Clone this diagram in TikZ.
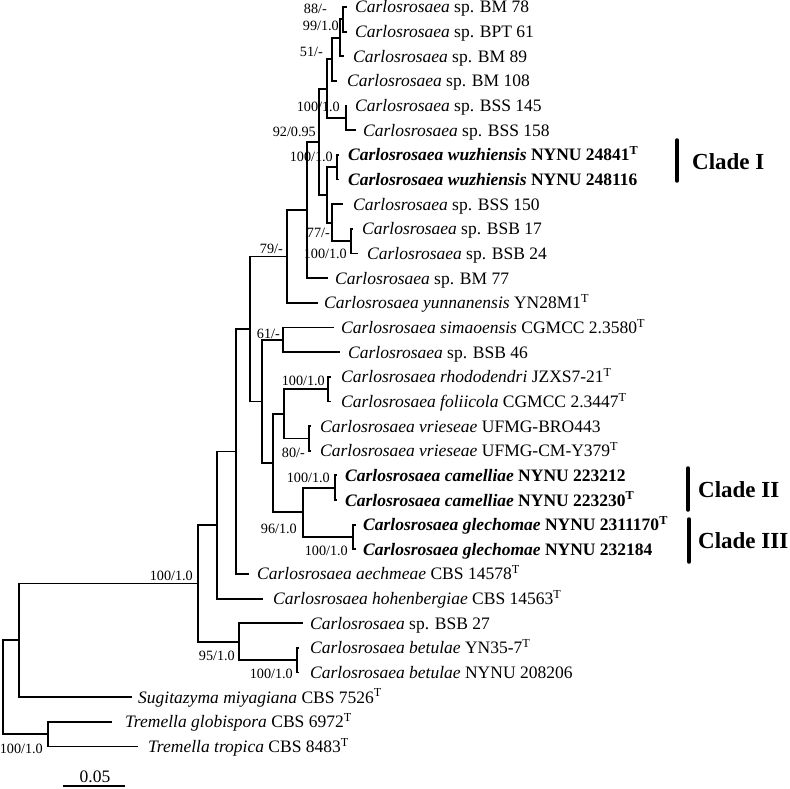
\documentclass[tikz,border=0pt]{standalone}
\usepackage{fontspec}
\setmainfont{Liberation Serif}
\begin{document}
\begin{tikzpicture}[x=1pt,y=-1pt,
  br/.style={line width=1.8pt},
  leaf/.style={anchor=base west,inner sep=0pt,font=\fontsize{17.5}{20}\selectfont},
  supp/.style={anchor=base east,inner sep=0pt,font=\fontsize{14.2}{16}\selectfont},
  cladetxt/.style={anchor=base west,inner sep=0pt,font=\fontsize{23}{26}\selectfont\bfseries},
  cladebar/.style={line width=3.5pt,line cap=round}]
\useasboundingbox (0,0) rectangle (790,789);
% leaf tips
\coordinate (l1) at (347,7);
\coordinate (l2) at (347,31.65);
\coordinate (l3) at (344,56.3);
\coordinate (l4) at (337,80.95);
\coordinate (l5) at (347,105.6);
\coordinate (l6) at (356,130.25);
\coordinate (l7) at (339,154.9);
\coordinate (l8) at (339,179.55);
\coordinate (l9) at (343,204.2);
\coordinate (l10) at (353,228.85);
\coordinate (l11) at (358,253.5);
\coordinate (l12) at (328,278.15);
\coordinate (l13) at (318,302.8);
\coordinate (l14) at (334,327.45);
\coordinate (l15) at (340,352.1);
\coordinate (l16) at (331,376.75);
\coordinate (l17) at (331,401.4);
\coordinate (l18) at (311,426.05);
\coordinate (l19) at (311,450.7);
\coordinate (l20) at (337,475.35);
\coordinate (l21) at (337,500);
\coordinate (l22) at (356,524.65);
\coordinate (l23) at (356,549.3);
\coordinate (l24) at (249,573.95);
\coordinate (l25) at (263,598.6);
\coordinate (l26) at (303,623.25);
\coordinate (l27) at (299,647.9);
\coordinate (l28) at (299,672.55);
\coordinate (l29) at (132,697.2);
\coordinate (l30) at (112,721.85);
\coordinate (l31) at (138,746.5);
% internal nodes
\coordinate (nZ) at (343,19.3);
\coordinate (nY) at (340,37.8);
\coordinate (nX) at (332,59.4);
\coordinate (nBS) at (346,117.9);
\coordinate (nT) at (327,88.7);
\coordinate (nWu) at (337,167.2);
\coordinate (nW) at (351,241.2);
\coordinate (nV) at (332,222.7);
\coordinate (nU) at (327,195);
\coordinate (nS) at (319,141.8);
\coordinate (nR) at (307,210);
\coordinate (nH) at (287,256.4);
\coordinate (nJ) at (283,339.8);
\coordinate (nM) at (328,389);
\coordinate (nN) at (309,438.4);
\coordinate (nL) at (284,413.7);
\coordinate (nP) at (335,487.7);
\coordinate (nQ) at (353,537);
\coordinate (nO) at (303,512.3);
\coordinate (nK) at (273,463);
\coordinate (nI) at (262,401.4);
\coordinate (nG) at (250,328.9);
\coordinate (nF) at (236,451.4);
\coordinate (nC) at (217,525);
\coordinate (nE) at (297,660.2);
\coordinate (nD) at (239,641.7);
\coordinate (nB) at (198,583.4);
\coordinate (nA) at (19,640.3);
\coordinate (nTr) at (48,734.2);
\coordinate (nRoot) at (3,687.2);
% branches
\draw[br] (l1) -| (nZ) |- (l2);
\draw[br] (nZ) -| (nY) |- (l3);
\draw[br] (nY) -| (nX) |- (l4);
\draw[br] (l5) -| (nBS) |- (l6);
\draw[br] (nX) -| (nT) |- (nBS);
\draw[br] (l7) -| (nWu) |- (l8);
\draw[br] (l10) -| (nW) |- (l11);
\draw[br] (l9) -| (nV) |- (nW);
\draw[br] (nWu) -| (nU) |- (nV);
\draw[br] (nT) -| (nS) |- (nU);
\draw[br] (nS) -| (nR) |- (l12);
\draw[br] (nR) -| (nH) |- (l13);
\draw[br] (l14) -| (nJ) |- (l15);
\draw[br] (l16) -| (nM) |- (l17);
\draw[br] (l18) -| (nN) |- (l19);
\draw[br] (nM) -| (nL) |- (nN);
\draw[br] (l20) -| (nP) |- (l21);
\draw[br] (l22) -| (nQ) |- (l23);
\draw[br] (nP) -| (nO) |- (nQ);
\draw[br] (nL) -| (nK) |- (nO);
\draw[br] (nJ) -| (nI) |- (nK);
\draw[br] (nH) -| (nG) |- (nI);
\draw[br] (nG) -| (nF) |- (l24);
\draw[br] (nF) -| (nC) |- (l25);
\draw[br] (l27) -| (nE) |- (l28);
\draw[br] (l26) -| (nD) |- (nE);
\draw[br] (nC) -| (nB) |- (nD);
\draw[br] (nB) -| (nA) |- (l29);
\draw[br] (l30) -| (nTr) |- (l31);
\draw[br] (nA) -| (nRoot) |- (nTr);
% leaf labels
\node[leaf] (t1) at (355,13) {\textit{Carlosrosaea} sp. BM 78};
\node[leaf] (t2) at (355,37.65) {\textit{Carlosrosaea} sp. BPT 61};
\node[leaf] (t3) at (353,62.3) {\textit{Carlosrosaea} sp. BM 89};
\node[leaf] (t4) at (347,86.95) {\textit{Carlosrosaea} sp. BM 108};
\node[leaf] (t5) at (355,111.6) {\textit{Carlosrosaea} sp. BSS 145};
\node[leaf] (t6) at (363,136.25) {\textit{Carlosrosaea} sp. BSS 158};
\node[leaf] (t7) at (348,160.9) {\textbf{\textit{Carlosrosaea wuzhiensis} NYNU 24841\textsuperscript{T}}};
\node[leaf] (t8) at (348,185.55) {\textbf{\textit{Carlosrosaea wuzhiensis} NYNU 248116}};
\node[leaf] (t9) at (353,210.2) {\textit{Carlosrosaea} sp. BSS 150};
\node[leaf] (t10) at (362,234.85) {\textit{Carlosrosaea} sp. BSB 17};
\node[leaf] (t11) at (367,259.5) {\textit{Carlosrosaea} sp. BSB 24};
\node[leaf] (t12) at (335,284.15) {\textit{Carlosrosaea} sp. BM 77};
\node[leaf] (t13) at (324,308.8) {\textit{Carlosrosaea yunnanensis} YN28M1\textsuperscript{T}};
\node[leaf] (t14) at (341,333.45) {\textit{Carlosrosaea simaoensis} CGMCC 2.3580\textsuperscript{T}};
\node[leaf] (t15) at (348,358.1) {\textit{Carlosrosaea} sp. BSB 46};
\node[leaf] (t16) at (341,382.75) {\textit{Carlosrosaea rhododendri} JZXS7-21\textsuperscript{T}};
\node[leaf] (t17) at (341,407.4) {\textit{Carlosrosaea foliicola} CGMCC 2.3447\textsuperscript{T}};
\node[leaf] (t18) at (320,432.05) {\textit{Carlosrosaea vrieseae} UFMG-BRO443};
\node[leaf] (t19) at (320,456.7) {\textit{Carlosrosaea vrieseae} UFMG-CM-Y379\textsuperscript{T}};
\node[leaf] (t20) at (345,481.35) {\textbf{\textit{Carlosrosaea camelliae} NYNU 223212}};
\node[leaf] (t21) at (345,506) {\textbf{\textit{Carlosrosaea camelliae} NYNU 223230\textsuperscript{T}}};
\node[leaf] (t22) at (363,530.65) {\textbf{\textit{Carlosrosaea glechomae} NYNU 2311170\textsuperscript{T}}};
\node[leaf] (t23) at (363,555.3) {\textbf{\textit{Carlosrosaea glechomae} NYNU 232184}};
\node[leaf] (t24) at (257,579.95) {\textit{Carlosrosaea aechmeae} CBS 14578\textsuperscript{T}};
\node[leaf] (t25) at (273,604.6) {\textit{Carlosrosaea hohenbergiae} CBS 14563\textsuperscript{T}};
\node[leaf] (t26) at (310,629.25) {\textit{Carlosrosaea} sp. BSB 27};
\node[leaf] (t27) at (310,653.9) {\textit{Carlosrosaea betulae} YN35-7\textsuperscript{T}};
\node[leaf] (t28) at (310,678.55) {\textit{Carlosrosaea betulae} NYNU 208206};
\node[leaf] (t29) at (138,703.2) {\textit{Sugitazyma miyagiana} CBS 7526\textsuperscript{T}};
\node[leaf] (t30) at (125,727.85) {\textit{Tremella globispora} CBS 6972\textsuperscript{T}};
\node[leaf] (t31) at (148,752.5) {\textit{Tremella tropica} CBS 8483\textsuperscript{T}};
% support values
\node[supp] (s1) at (327,14) {88/-};
\node[supp] (s2) at (339,31) {99/1.0};
\node[supp] (s3) at (323,57) {51/-};
\node[supp] (s4) at (340,112) {100/1.0};
\node[supp] (s5) at (316,137) {92/0.95};
\node[supp] (s6) at (333,162) {100/1.0};
\node[supp] (s7) at (330,237) {77/-};
\node[supp] (s8) at (347,258) {100/1.0};
\node[supp] (s9) at (283,253) {79/-};
\node[supp] (s10) at (280,338) {61/-};
\node[supp] (s11) at (325,385) {100/1.0};
\node[supp] (s12) at (305,457) {80/-};
\node[supp] (s13) at (330,482) {100/1.0};
\node[supp] (s14) at (297,533) {96/1.0};
\node[supp] (s15) at (348,555) {100/1.0};
\node[supp] (s16) at (193,580) {100/1.0};
\node[supp] (s17) at (235,660) {95/1.0};
\node[supp] (s18) at (293,678) {100/1.0};
\node[supp] (s19) at (43,753) {100/1.0};
% clades
\coordinate (c1a) at (677,140);
\coordinate (c1b) at (677,181);
\draw[cladebar] (c1a) -- (c1b);
\node[cladetxt] (ct1) at (692,169) {Clade I};
\coordinate (c2a) at (688,468);
\coordinate (c2b) at (688,510);
\draw[cladebar] (c2a) -- (c2b);
\node[cladetxt] (ct2) at (698,497) {Clade II};
\coordinate (c3a) at (689,519);
\coordinate (c3b) at (689,562);
\draw[cladebar] (c3a) -- (c3b);
\node[cladetxt] (ct3) at (698,548) {Clade III};
% scale bar
\coordinate (sb1) at (63,786);
\coordinate (sb2) at (125,786);
\draw[br] (sb1) -- (sb2);
\node[leaf,anchor=base] (sbt) at (95,782) {0.05};
\end{tikzpicture}
\end{document}
